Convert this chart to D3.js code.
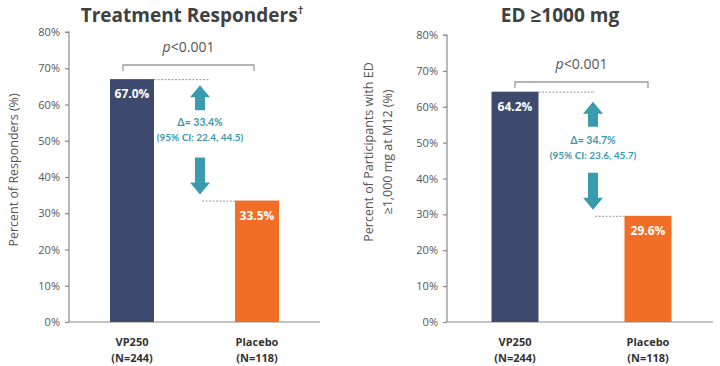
<!DOCTYPE html>
<html><head><meta charset="utf-8">
<script src="https://cdn.jsdelivr.net/npm/d3@7"></script>
<style>
html,body{margin:0;padding:0;background:#fff;}
svg{display:block;}
</style></head>
<body>
<svg id="chart" width="720" height="366"></svg>
<script>
// ---- data ----
const categories = ["VP250", "Placebo"];
const nLabels = ["(N=244)", "(N=118)"];
const respondersValues = [67.0, 33.5];
const ed1000Values = [64.2, 29.6];
const yTickValues = [0, 10, 20, 30, 40, 50, 60, 70, 80];
const titles = ["Treatment Responders", "ED \u22651000 mg"];
const titleMarks = ["\u2020", ""];
const yTitles = [["Percent of Responders (%)"], ["Percent of Participants with ED", "\u22651,000 mg at M12 (%)"]];
const deltaLabels = ["\u0394= 33.4%", "\u0394= 34.7%"];
const ciLabels = ["(95% CI: 22.4, 44.5)", "(95% CI: 23.6, 45.7)"];
const pLabels = ["<0.001", "<0.001"];

// ---- layout ----
const panels = [
  {values: respondersValues, axisX: 69, axisEnd: 320, yTop: 32, yBottom: 322, centers: [132, 257], barW: 44,
   titleX: 192, titleY: 22, yTitleX: 18, yTitleY: 170, bracket: [123, 254], bracketY: 65, pY: 52,
   arrowX: 200, deltaY: 126, ciY: 141, upGap: 6, upLen: 25, downGap: 6, downLen: 37, dotEnd1: 210, dotStart2: 202},
  {values: ed1000Values, axisX: 447, axisEnd: 713, yTop: 35, yBottom: 322, centers: [515, 648], barW: 47,
   titleX: 560, titleY: 22, yTitleX: 378, yTitleY: 152, bracket: [515, 648], bracketY: 82, pY: 69,
   arrowX: 593, deltaY: 144, ciY: 159, upGap: 10, upLen: 25, downGap: 6, downLen: 37, dotEnd1: 595, dotStart2: 595}
];

const colors = ["#3d4a6d", "#f26d25"];
const teal = "#3a9aae";
const svg = d3.select("#chart");
const font = "'Open Sans', 'Noto Sans', sans-serif";
const font2 = "Lato, 'Open Sans', sans-serif";

panels.forEach((p, i) => {
  const g = svg.append("g");
  const y = d3.scaleLinear().domain([0, 80]).range([p.yBottom, p.yTop]);
  const x = d3.scalePoint().domain(categories).range(p.centers);

  // title
  const tt = g.append("text").attr("x", p.titleX).attr("y", p.titleY).attr("text-anchor", "middle")
    .attr("font-family", font).attr("font-weight", 700).attr("font-size", 19).attr("fill", "#404040");
  tt.append("tspan").text(titles[i]);
  if (titleMarks[i]) tt.append("tspan").attr("font-size", 11).attr("dy", -8).text(titleMarks[i]);

  // y axis
  const yAxis = d3.axisLeft(y).tickValues(yTickValues).tickFormat(d => d + "%").tickSize(4).tickPadding(5);
  const ya = g.append("g").attr("transform", `translate(${p.axisX},0)`).call(yAxis);
  ya.select(".domain").attr("stroke", "#8a8a8a").attr("stroke-width", 1.2).attr("d", `M-4,${p.yTop}H0V${p.yBottom}`);
  ya.selectAll(".tick line").attr("stroke", "#8a8a8a").attr("stroke-width", 1.2);
  ya.selectAll(".tick text").attr("font-family", font).attr("font-size", 11).attr("fill", "#555");

  // x axis
  const xa = g.append("g").attr("transform", `translate(0,${p.yBottom})`);
  xa.append("line").attr("x1", p.axisX).attr("x2", p.axisEnd).attr("stroke", "#8a8a8a").attr("stroke-width", 1.2);
  categories.forEach((c, j) => {
    xa.append("text").attr("x", x(c)).attr("y", 24).attr("text-anchor", "middle")
      .attr("font-family", font).attr("font-weight", 700).attr("font-size", 11).attr("fill", "#333").text(c);
    xa.append("text").attr("x", x(c)).attr("y", 40).attr("text-anchor", "middle")
      .attr("font-family", font).attr("font-weight", 700).attr("font-size", 11).attr("fill", "#333").text(nLabels[j]);
  });

  // y title
  const yt = g.append("text").attr("transform", `translate(${p.yTitleX},${p.yTitleY}) rotate(-90)`)
    .attr("text-anchor", "middle").attr("font-family", font).attr("font-size", 12.5).attr("fill", "#555");
  yTitles[i].forEach((line, k) => {
    yt.append("tspan").attr("x", 0).attr("dy", k === 0 ? (yTitles[i].length > 1 ? -5 : 0) : 19).text(line);
  });

  // bars
  g.selectAll("rect.bar").data(p.values).join("rect").attr("class", "bar")
    .attr("x", (d, j) => x(categories[j]) - p.barW / 2).attr("width", p.barW)
    .attr("y", d => y(d)).attr("height", d => y(0) - y(d))
    .attr("fill", (d, j) => colors[j]);

  // value labels
  g.selectAll("text.val").data(p.values).join("text").attr("class", "val")
    .attr("x", (d, j) => x(categories[j])).attr("y", d => y(d) + 19)
    .attr("text-anchor", "middle").attr("font-family", font).attr("font-weight", 700)
    .attr("font-size", 12).attr("fill", "#fff").text(d => d.toFixed(1) + "%");

  // dotted reference lines
  const x1 = x(categories[0]) + p.barW / 2, x2 = x(categories[1]) - p.barW / 2;
  g.append("line").attr("x1", x1).attr("x2", p.dotEnd1).attr("y1", y(p.values[0]) + 0.5).attr("y2", y(p.values[0]) + 0.5)
    .attr("stroke", "#9a9a9a").attr("stroke-width", 1).attr("stroke-dasharray", "2,1.5");
  g.append("line").attr("x1", p.dotStart2).attr("x2", x2).attr("y1", y(p.values[1]) + 0.5).attr("y2", y(p.values[1]) + 0.5)
    .attr("stroke", "#9a9a9a").attr("stroke-width", 1).attr("stroke-dasharray", "2,1.5");

  // bracket
  const [b1, b2] = p.bracket;
  g.append("path").attr("d", `M${b1},${p.bracketY + 6}V${p.bracketY}H${b2}V${p.bracketY + 6}`)
    .attr("fill", "none").attr("stroke", "#9a9a9a").attr("stroke-width", 1.3);
  const pt = g.append("text").attr("x", (b1 + b2) / 2).attr("y", p.pY).attr("text-anchor", "middle")
    .attr("font-family", font).attr("font-size", 14).attr("fill", "#555");
  pt.append("tspan").attr("font-style", "italic").text("p");
  pt.append("tspan").text(pLabels[i]);

  // arrows
  const ax = p.arrowX, hw = 10, sw = 5, hh = 12;
  const upTop = y(p.values[0]) + p.upGap, upBot = upTop + p.upLen;
  g.append("path").attr("fill", teal)
    .attr("d", `M${ax},${upTop}L${ax + hw},${upTop + hh}L${ax + sw},${upTop + hh}L${ax + sw},${upBot}L${ax - sw},${upBot}L${ax - sw},${upTop + hh}L${ax - hw},${upTop + hh}Z`);
  const dnTip = y(p.values[1]) - p.downGap, dnTop = dnTip - p.downLen;
  g.append("path").attr("fill", teal)
    .attr("d", `M${ax},${dnTip}L${ax + hw},${dnTip - hh}L${ax + sw},${dnTip - hh}L${ax + sw},${dnTop}L${ax - sw},${dnTop}L${ax - sw},${dnTip - hh}L${ax - hw},${dnTip - hh}Z`);

  g.append("text").attr("x", ax).attr("y", p.deltaY).attr("text-anchor", "middle")
    .attr("font-family", font2).attr("font-weight", 700).attr("font-size", 10.5).attr("fill", teal).text(deltaLabels[i]);
  g.append("text").attr("x", ax).attr("y", p.ciY).attr("text-anchor", "middle")
    .attr("font-family", font2).attr("font-weight", 700).attr("font-size", 10).attr("fill", teal).text(ciLabels[i]);
});
</script>
</body></html>
